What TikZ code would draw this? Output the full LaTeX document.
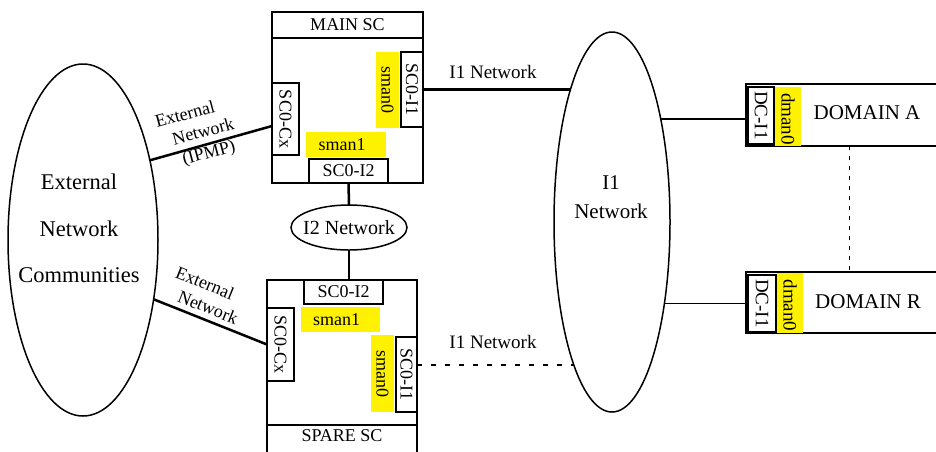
\documentclass[tikz,border=0pt]{standalone}
\usepackage{fontspec}
\setmainfont{Liberation Serif}
\usetikzlibrary{shapes.geometric}

\newcommand{\portsz}{\fontsize{18}{22}\selectfont}
\newcommand{\netsz}{\fontsize{19}{23}\selectfont}
\newcommand{\midsz}{\fontsize{20}{24}\selectfont}
\newcommand{\domsz}{\fontsize{21}{25}\selectfont}
\newcommand{\linksz}{\fontsize{18}{21.5}\selectfont}

\tikzset{
  box/.style={draw, line width=1.3pt, inner sep=0pt, outer sep=0pt, font=\portsz},
  agent/.style={fill=yellow, inner sep=0pt, outer sep=0pt, font=\portsz},
  netcloud/.style={ellipse, draw, line width=1.5pt, inner sep=0pt, outer sep=0pt},
  netline/.style={line width=2.5pt},
}

\begin{document}
\begin{tikzpicture}[x=1pt, y=-1pt]
    \useasboundingbox (0,0) rectangle (936,451);
    \clip (0,0) rectangle (936,451);

    % external communities
    \node[netcloud, minimum width=150pt, minimum height=352pt] (ext) at (83,240) {};
    \node[font=\fontsize{22.5}{46.5}\selectfont, align=center] (extlbl) at (79,228.5) {External\\Network\\Communities};

    % main SC
    \node[box, minimum width=151pt, minimum height=171pt] (main) at (347.5,97.5) {};
    \draw[line width=1.3pt] ([yshift=-26pt]main.north west) -- ([yshift=-26pt]main.north east);
    \node[font=\portsz] (maintitle) at (347.5,25) {MAIN SC};
    \node[agent, rotate=-90, minimum width=76pt, minimum height=23pt] (msman0) at (387.5,90) {sman0};
    \node[box, rotate=-90, minimum width=75pt, minimum height=22pt] (mi1) at (412,89.5) {SC0-I1};
    \node[box, rotate=-90, minimum width=72pt, minimum height=27pt] (mcx) at (285.5,119) {SC0-Cx};
    \node[agent, minimum width=80pt, minimum height=25pt] (msman1) at (346,144.5) {sman1\hspace*{8pt}};
    \node[box, minimum width=79pt, minimum height=24pt] (mi2) at (348.5,171) {SC0-I2};

    % spare SC
    \node[box, minimum width=150pt, minimum height=190pt] (spare) at (342,375) {};
    \draw[line width=1.3pt] ([yshift=-145pt]spare.north west) -- ([yshift=-145pt]spare.north east);
    \node[font=\portsz] (sparetitle) at (342,436) {SPARE SC};
    \node[box, minimum width=79pt, minimum height=24pt] (si2) at (343.5,292) {SC0-I2};
    \node[agent, minimum width=79pt, minimum height=25pt] (ssman1) at (340.5,319.5) {sman1\hspace*{8pt}};
    \node[box, rotate=-90, minimum width=73pt, minimum height=27pt] (scx) at (280.5,344.5) {SC0-Cx};
    \node[agent, rotate=-90, minimum width=77pt, minimum height=23pt] (ssman0) at (382.5,373.5) {sman0};
    \node[box, rotate=-90, minimum width=75pt, minimum height=21pt] (si1) at (406.5,374.5) {SC0-I1};

    % networks
    \node[netcloud, minimum width=116pt, minimum height=45pt] (i2net) at (349,227.5) {};
    \node[font=\midsz] (i2lbl) at (i2net) {I2 Network};
    \node[netcloud, minimum width=116pt, minimum height=380pt] (i1net) at (612,222) {};
    \node[font=\fontsize{21}{29}\selectfont, align=center] (i1lbl) at (611,197.5) {I1\\Network};

    % domains
    \node[box, minimum width=214pt, minimum height=62pt] (doma) at (853,115) {};
    \node[box, rotate=-90, minimum width=57pt, minimum height=26pt, font=\netsz] (dca) at (761,115.5) {DC-I1};
    \node[agent, rotate=-90, minimum width=59pt, minimum height=26pt, font=\netsz] (dmana) at (788,116.5) {\hspace*{5pt}dman0};
    \node[font=\domsz] (domalbl) at (867,113) {DOMAIN A};
    \node[box, minimum width=214pt, minimum height=61pt] (domr) at (853,302.5) {};
    \node[box, rotate=-90, minimum width=57pt, minimum height=28pt, font=\netsz] (dcr) at (762,303.5) {DC-I1};
    \node[agent, rotate=-90, minimum width=60pt, minimum height=26pt, font=\netsz] (dmanr) at (790,303) {\hspace*{5pt}dman0};
    \node[font=\domsz] (domrlbl) at (868,302) {DOMAIN R};

    % links
    \draw[netline] (mi2.south) -- (i2net.north);
    \draw[netline] (i2net.south) -- (i2net.south |- si2.north);
    \draw[netline] (ext.50) -- ([yshift=-7pt]mcx.south);
    \node[font=\linksz, align=center, rotate=15] (extlbla) at (203.5,133) {External\hspace*{26pt}\\Network\\(IPMP)};
    \draw[netline] (ext.-40.5) -- (scx.south);
    \node[font=\linksz, align=center, rotate=-22] (extlblb) at (206.5,295) {External\hspace*{12pt}\\\hspace*{12pt}Network};
    \draw[netline] (mi1.north) -- (mi1.north -| i1net.107.5);
    \node[font=\netsz] (i1lbla) at (493,72) {I1 Network};
    \draw[netline, dash pattern=on 5pt off 9pt] ([yshift=9.5pt]si1.north) -- ([yshift=9.5pt]si1.north -| i1net.-105.3);
    \node[font=\netsz] (i1lblb) at (493,342) {I1 Network};
    \draw[line width=1.8pt] ([yshift=-3.5pt]dca.south) -- ([yshift=-3.5pt]dca.south -| i1net.64.6);
    \draw[line width=1.8pt] (dcr.south) -- (dcr.south -| i1net.-57);
    \draw[line width=1pt, dash pattern=on 4pt off 6pt] ([xshift=-4pt]doma.south) -- ([xshift=-4pt]domr.north);
\end{tikzpicture}
\end{document}
